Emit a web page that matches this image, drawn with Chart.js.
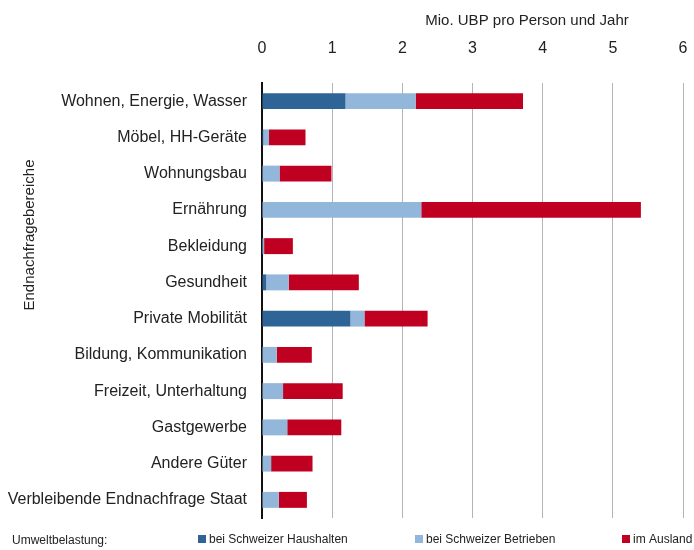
<!DOCTYPE html>
<html>
<head>
<meta charset="utf-8">
<script src="https://cdn.jsdelivr.net/npm/chart.js@4"></script>
<style>
    body { margin: 0; background: #fff; }
    #wrap { width: 694px; height: 550px; }
</style>
</head>
<body>
<div id="wrap"><canvas id="chart" width="694" height="550"></canvas></div>
<script>
const categories = [
    'Wohnen, Energie, Wasser', 'Möbel, HH-Geräte', 'Wohnungsbau', 'Ernährung',
    'Bekleidung', 'Gesundheit', 'Private Mobilität', 'Bildung, Kommunikation',
    'Freizeit, Unterhaltung', 'Gastgewerbe', 'Andere Güter', 'Verbleibende Endnachfrage Staat'
];
const haushalte = [1.19, 0.02, 0, 0, 0, 0.06, 1.26, 0, 0, 0, 0, 0];
const betriebe  = [1.00, 0.08, 0.25, 2.27, 0.03, 0.32, 0.20, 0.21, 0.30, 0.36, 0.13, 0.24];
const ausland   = [1.53, 0.52, 0.74, 3.13, 0.41, 1.00, 0.90, 0.50, 0.85, 0.77, 0.59, 0.40];
const seriesNames = ['bei Schweizer Haushalten', 'bei Schweizer Betrieben', 'im Ausland'];
const colors = ['#2F6497', '#93B7DA', '#C00020'];

const font = 'Liberation Sans, Arial, sans-serif';

// Titel, y-Titel und Legende von Hand zeichnen
const extras = {
    id: 'extras',
    afterDraw(chart) {
        const ctx = chart.ctx;
        ctx.save();
        ctx.fillStyle = '#222';
        ctx.font = '15px ' + font;
        ctx.textAlign = 'center';
        ctx.textBaseline = 'middle';
        ctx.fillText('Mio. UBP pro Person und Jahr', 527, 21);
        ctx.translate(30, 235);
        ctx.rotate(-Math.PI / 2);
        ctx.fillText('Endnachfragebereiche', 0, 0);
        ctx.restore();

        ctx.save();
        ctx.font = '12px ' + font;
        ctx.textBaseline = 'middle';
        ctx.fillStyle = '#222';
        ctx.fillText('Umweltbelastung:', 12, 541);
        const xs = [198, 415, 622];
        chart.data.datasets.forEach((ds, i) => {
            ctx.fillStyle = ds.backgroundColor;
            ctx.fillRect(xs[i], 535, 8, 8);
            ctx.fillStyle = '#222';
            ctx.fillText(ds.label, xs[i] + 11, 540);
        });
        ctx.restore();
    }
};

new Chart(document.getElementById('chart'), {
    type: 'bar',
    data: {
        labels: categories,
        datasets: [haushalte, betriebe, ausland].map((d, i) => ({
            label: seriesNames[i],
            data: d,
            backgroundColor: colors[i],
            borderWidth: 0,
            barPercentage: 0.44,
            categoryPercentage: 1
        }))
    },
    options: {
        indexAxis: 'y',
        responsive: false,
        animation: false,
        layout: { padding: { left: 0, right: 11, top: 0, bottom: 32 } },
        plugins: { legend: { display: false }, tooltip: { enabled: false } },
        scales: {
            x: {
                position: 'top',
                stacked: true,
                min: 0,
                max: 6,
                ticks: { stepSize: 1, color: '#222', font: { size: 16, family: font }, padding: 6 },
                grid: { color: '#b4b4b4', drawTicks: true, tickLength: 19, tickColor: 'rgba(0,0,0,0)' },
                border: { display: false },
                afterFit: s => { s.height = 83; }
            },
            y: {
                stacked: true,
                ticks: { color: '#222', font: { size: 16, family: font }, padding: 7 },
                grid: { display: false },
                border: { color: '#111', width: 2 },
                afterFit: s => { s.width = 262; }
            }
        }
    },
    plugins: [extras]
});
</script>
</body>
</html>
